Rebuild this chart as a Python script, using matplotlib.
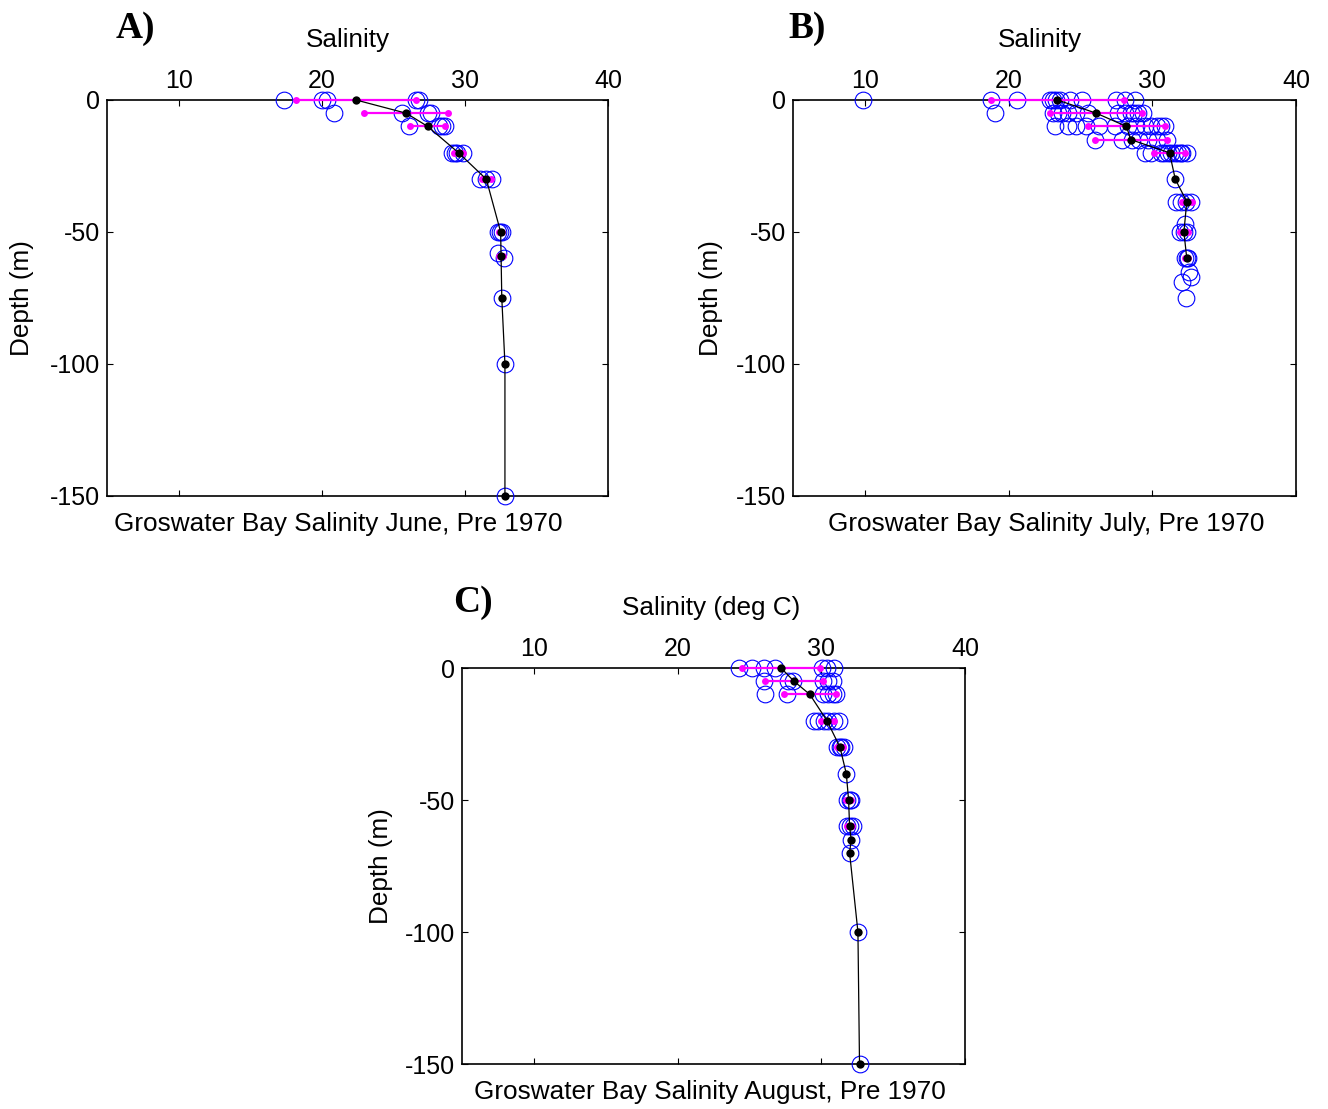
import matplotlib
matplotlib.use("Agg")
import matplotlib.pyplot as plt
import numpy as np

# ---------------- data ----------------
# Panel A (June)
A_obs_sal = [17.35, 20.0, 20.4, 26.6, 26.8,
             20.85, 25.6, 27.4, 27.6,
             26.1, 28.2, 28.4, 28.6,
             29.1, 29.3, 29.45, 29.9,
             31.07, 31.5, 31.9,
             32.35, 32.46, 32.58,
             32.35, 32.7, 32.58, 32.8, 32.8]
A_obs_depth = [0, 0, 0, 0, 0,
               -5, -5, -5, -5,
               -10, -10, -10, -10,
               -20, -20, -20, -20,
               -30, -30, -30,
               -50, -50, -50,
               -58, -60, -75, -100, -150]
A_mean_sal = [22.4, 25.9, 27.4, 29.56, 31.5, 32.5, 32.53, 32.58, 32.8, 32.8]
A_mean_depth = [0, -5, -10, -20, -30, -50, -59, -75, -100, -150]
A_std = [4.2, 2.95, 1.2, 0.3, 0.3, 0.1, 0.15, 0, 0, 0]

# Panel B (July)
B_obs_sal = [9.9, 18.8, 20.6, 22.9, 23.1, 23.3, 23.6, 24.3, 25.1, 27.5, 28.1, 28.8,
             19.05, 23.1, 23.45, 23.7, 24.15, 24.7, 25.5, 27.6, 28.1, 28.5, 28.7, 29.0, 29.35,
             23.2, 24.15, 24.7, 25.4, 26.3, 27.4, 28.3, 28.9, 29.5, 29.9, 30.3, 30.6, 30.9,
             26.0, 27.9, 28.6, 29.1, 29.7, 30.3, 31.0,
             29.5, 29.9, 30.6, 30.8, 31.1, 31.3, 31.55, 31.8, 32.0, 32.1, 32.4,
             31.6,
             31.67, 32.0, 32.36, 32.7,
             32.3,
             31.9, 32.2, 32.4,
             32.3, 32.4, 32.5,
             32.55, 32.7, 32.1, 32.36]
B_obs_depth = [0] * 12 + [-5] * 13 + [-10] * 13 + [-15] * 7 + [-20] * 11 + [-30] \
    + [-38.5] * 4 + [-47] + [-50] * 3 + [-60] * 3 + [-65, -67, -69, -75]
B_mean_sal = [23.4, 26.1, 28.2, 28.5, 31.2, 31.6, 32.4, 32.2, 32.4]
B_mean_depth = [0, -5, -10, -15, -20, -30, -38.5, -50, -60]
B_std = [4.65, 3.2, 2.7, 2.5, 1.05, 0, 0.35, 0.3, 0.1]

# Panel C (August)
C_obs_sal = [24.26, 25.19, 26.0, 26.8, 30.05, 30.4, 30.85,
             26.0, 27.7, 28.05, 30.1, 30.5, 30.8,
             26.1, 27.6, 30.1, 30.5, 30.8, 31.0,
             29.5, 29.8, 30.2, 30.5, 30.85, 31.2,
             31.1, 31.3, 31.4, 31.55,
             31.7,
             31.8, 31.97, 32.1,
             31.8, 32.0, 32.2,
             32.1, 31.97, 32.55, 32.66]
C_obs_depth = [0] * 7 + [-5] * 6 + [-10] * 6 + [-20] * 6 + [-30] * 4 + [-40] \
    + [-50] * 3 + [-60] * 3 + [-65, -70, -100, -150]
C_mean_sal = [27.2, 28.1, 29.2, 30.4, 31.3, 31.74, 31.9, 31.97, 32.08, 31.97, 32.55, 32.66]
C_mean_depth = [0, -5, -10, -20, -30, -40, -50, -60, -65, -70, -100, -150]
C_std = [2.7, 2.0, 1.8, 0.45, 0.2, 0, 0.15, 0.15, 0, 0, 0, 0]

x_ticks = [10, 20, 30, 40]
y_ticks = [0, -50, -100, -150]

W, H = 1328, 1109
# (label, xlabel, title, data..., axes px box, panel-label pos, ylabel x, xlabel x, title x)
panels = [
    ("A)", "Salinity", "Groswater Bay Salinity June, Pre 1970",
     A_obs_sal, A_obs_depth, A_mean_sal, A_mean_depth, A_std,
     (107, 608, 100, 496), (116, 28), 22, 348, 338),
    ("B)", "Salinity", "Groswater Bay Salinity July, Pre 1970",
     B_obs_sal, B_obs_depth, B_mean_sal, B_mean_depth, B_std,
     (793, 1296, 100, 496), (788, 28), 711, 1040, 1046),
    ("C)", "Salinity (deg C)", "Groswater Bay Salinity August, Pre 1970",
     C_obs_sal, C_obs_depth, C_mean_sal, C_mean_depth, C_std,
     (462, 965, 668, 1064), (453, 603), 381, 711, 710),
]

plt.rcParams['font.family'] = ['Liberation Sans', 'DejaVu Sans']
plt.rcParams['axes.unicode_minus'] = False

FS = 18
LFS = 18.8

fig = plt.figure(figsize=(W / 100, H / 100), dpi=100)

for (label, xlab, title, osal, odep, msal, mdep, mstd,
     (x0, x1, y0, y1), (lx, ly), ylx, xlx, tx) in panels:
    ax = fig.add_axes([x0 / W, 1 - y1 / H, (x1 - x0) / W, (y1 - y0) / H])
    ax.set_xlim(5, 40)
    ax.set_ylim(-150, 0)
    msal_a = np.array(msal)
    mstd_a = np.array(mstd)
    # observations
    ax.plot(osal, odep, linestyle='none', marker='o', markersize=12,
            markerfacecolor='none', markeredgecolor='#0000ff',
            markeredgewidth=0.8, clip_on=False, zorder=3)
    # mean +/- std
    for m, s, d in zip(msal_a, mstd_a, mdep):
        if s > 0:
            ax.plot([m - s, m + s], [d, d], color='#ff00ff', linewidth=1.6,
                    marker='o', markersize=5, markeredgewidth=0,
                    clip_on=False, zorder=4)
    # mean profile
    ax.plot(msal, mdep, color='black', linewidth=0.9, marker='o',
            markersize=6, markerfacecolor='black', markeredgewidth=0,
            clip_on=False, zorder=5)

    ax.set_xticks(x_ticks)
    ax.set_yticks(y_ticks)
    ax.tick_params(axis='both', direction='in', length=4, width=0.8,
                   labelsize=FS, top=True, bottom=True, left=True, right=True,
                   labeltop=True, labelbottom=False, pad=5)
    for sp in ax.spines.values():
        sp.set_linewidth(1.2)
    # axis labels / titles
    fig.text(xlx / W, 1 - (y0 - 60) / H, xlab, ha='center',
             va='center', fontsize=LFS)
    fig.text(ylx / W, 1 - (y0 + y1) / 2 / H, 'Depth (m)', rotation=90,
             ha='center', va='center', fontsize=LFS)
    fig.text(tx / W, 1 - (y1 + 28) / H, title, ha='center',
             va='center', fontsize=LFS)
    fig.text(lx / W, 1 - ly / H, label, ha='left', va='center',
             fontsize=27, fontweight='bold', family='Liberation Serif')

fig.savefig('out.png', dpi=100)
